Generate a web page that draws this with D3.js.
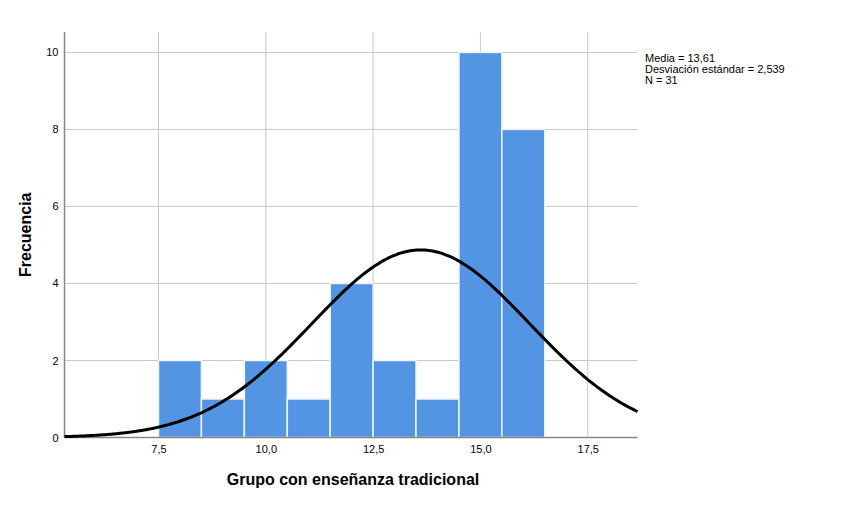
<!DOCTYPE html>
<html><head><meta charset="utf-8">
<script src="https://cdn.jsdelivr.net/npm/d3@7"></script>
<style>body{margin:0;background:#fff}svg{display:block}</style>
</head><body>
<svg id="c" width="850" height="526"></svg>
<script>
const binStarts = [7.5, 8.5, 9.5, 10.5, 11.5, 12.5, 13.5, 14.5, 15.5];
const binWidth = 1;
const counts = [2, 1, 2, 1, 4, 2, 1, 10, 8];
const xTicks = [7.5, 10.0, 12.5, 15.0, 17.5];
const yTicks = [0, 2, 4, 6, 8, 10];
const mean = 13.61, sd = 2.539, n = 31;
const legendLines = ["Media = 13,61", "Desviación estándar = 2,539", "N = 31"];

const svg = d3.select("#c");
const L = 64.5, R = 637.5, T = 32, B = 437.5;
const x = d3.scaleLinear().domain([5.31, 18.66]).range([L, R]);
const y = d3.scaleLinear().domain([0, 10.53]).range([B, T]);
const fmt = v => d3.format(".1f")(v).replace(".", ",");
const font = "'Liberation Sans', Arial, sans-serif";

// gridlines
const g = svg.append("g");
g.selectAll(".vg").data(xTicks).join("line")
  .attr("x1", d => x(d)).attr("x2", d => x(d)).attr("y1", T).attr("y2", B)
  .attr("stroke", "#c8c8c8").attr("stroke-width", 1);
g.selectAll(".hg").data(yTicks.filter(d => d > 0)).join("line")
  .attr("x1", L).attr("x2", R).attr("y1", d => y(d)).attr("y2", d => y(d))
  .attr("stroke", "#c8c8c8").attr("stroke-width", 1);

// bars
svg.append("g").selectAll("rect").data(binStarts).join("rect")
  .attr("x", d => x(d)).attr("width", d => x(d + binWidth) - x(d))
  .attr("y", (d, i) => y(counts[i])).attr("height", (d, i) => y(0) - y(counts[i]))
  .attr("fill", "#5495e3").attr("stroke", "#eef4fc").attr("stroke-width", 1.5);

// axes
const xa = svg.append("g").attr("transform", `translate(0,${B})`)
  .call(d3.axisBottom(x).tickValues(xTicks).tickFormat(fmt).tickSize(0).tickPadding(8));
const ya = svg.append("g").attr("transform", `translate(${L},0)`)
  .call(d3.axisLeft(y).tickValues(yTicks).tickFormat(d3.format("d")).tickSize(0).tickPadding(6));
[xa, ya].forEach(a => {
  a.select(".domain").attr("stroke", "#888").attr("stroke-width", 1.5);
  a.selectAll("text").attr("font-family", font).attr("font-size", 11).attr("fill", "#000");
});
ya.select(".domain").attr("d", `M0,${T}V${B}`);
xa.select(".domain").attr("d", `M0,0H${R}`).attr("transform", null);
xa.select(".domain").attr("d", `M${L},0H${R}`);

// normal curve
const xs = d3.range(5.31, 18.661, 0.05);
const pdf = v => n * binWidth * Math.exp(-0.5 * ((v - mean) / sd) ** 2) / (sd * Math.sqrt(2 * Math.PI));
svg.append("path").datum(xs)
  .attr("d", d3.line().x(d => x(d)).y(d => y(pdf(d))).curve(d3.curveBasis))
  .attr("fill", "none").attr("stroke", "#000").attr("stroke-width", 3);

// titles
svg.append("text").attr("x", (L + R) / 2 + 2).attr("y", 485).attr("text-anchor", "middle")
  .attr("font-family", font).attr("font-size", 16).attr("font-weight", "bold").text("Grupo con enseñanza tradicional");
svg.append("text").attr("transform", `translate(31,${(T + B) / 2}) rotate(-90)`).attr("text-anchor", "middle")
  .attr("font-family", font).attr("font-size", 16).attr("font-weight", "bold").text("Frecuencia");

// legend
svg.append("g").selectAll("text").data(legendLines).join("text")
  .attr("x", 645).attr("y", (d, i) => 62 + i * 11)
  .attr("font-family", font).attr("font-size", 11).attr("fill", "#000").text(d => d);
</script>
</body></html>
